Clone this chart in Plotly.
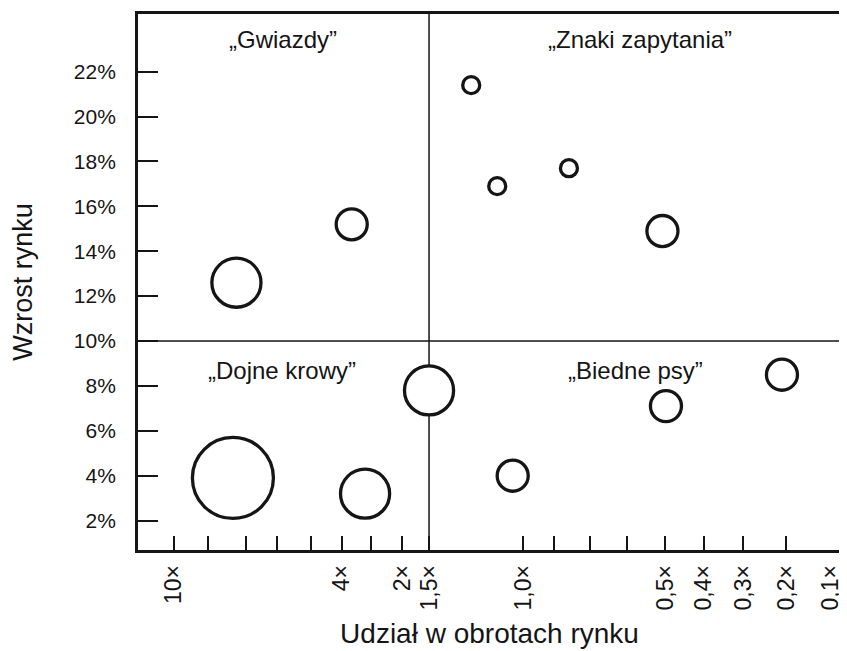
import plotly.graph_objects as go

# ---- Oś X: udział w obrotach rynku (pozycje na osi w jednostkach 0-100) ----
x_label_pos = [5.1, 29.0, 37.6, 41.4, 54.8, 75.0, 80.5, 86.1, 92.2, 98.5]
x_label_text = ["10×", "4×", "2×", "1,5×", "1,0×", "0,5×", "0,4×", "0,3×", "0,2×", "0,1×"]
x_tick_marks = [5.1, 10.0, 15.4, 19.8, 24.6, 29.0, 33.1, 37.6, 41.4,
                54.8, 59.2, 64.3, 69.6, 75.0, 80.5, 86.1, 92.2]

# ---- Oś Y: wzrost rynku (%) ----
y_tick_vals = [2, 4, 6, 8, 10, 12, 14, 16, 18, 20, 22]
y_tick_text = ["2%", "4%", "6%", "8%", "10%", "12%", "14%", "16%", "18%", "20%", "22%"]

# ---- Produkty ----
quadrant = ["Gwiazdy", "Gwiazdy",
            "Znaki zapytania", "Znaki zapytania", "Znaki zapytania", "Znaki zapytania",
            "Dojne krowy", "Dojne krowy", "Dojne krowy",
            "Biedne psy", "Biedne psy", "Biedne psy"]
share_pos = [14.0, 30.4,
             47.4, 51.1, 61.3, 74.6,
             13.5, 32.3, 41.4,
             53.3, 75.1, 91.6]
growth = [12.6, 15.2,
          21.4, 16.9, 17.7, 14.9,
          3.9, 3.2, 7.8,
          4.0, 7.1, 8.5]
sales = [2.5, 1.0,
         0.3, 0.3, 0.3, 1.0,
         6.8, 2.5, 2.5,
         1.0, 1.0, 1.0]

split_x = 41.4   # 1,5×
split_y = 10     # 10%

ink = "#151515"
font_family = "Liberation Sans, Arial, sans-serif"

fig = go.Figure()
fig.add_trace(go.Scatter(
    x=share_pos, y=growth, mode="markers",
    text=quadrant,
    marker=dict(
        size=sales, sizemode="area", sizeref=2 * 6.8 / 81 ** 2,
        color="white", symbol="circle", opacity=1,
        line=dict(color=ink, width=3.3),
    ),
    showlegend=False,
    hoverinfo="text+y",
))

# Linie podziału na ćwiartki
fig.add_shape(type="line", xref="x", yref="y", x0=split_x, x1=split_x,
              y0=0.69, y1=24.57, line=dict(color=ink, width=1.5), layer="below")
fig.add_shape(type="line", xref="x", yref="y", x0=0, x1=100,
              y0=split_y, y1=split_y, line=dict(color=ink, width=1.5), layer="below")

# Etykiety ćwiartek
quad_labels = [("„Gwiazdy”", 20.6, 23.45), ("„Znaki zapytania”", 71.4, 23.45),
               ("„Dojne krowy”", 20.5, 8.7), ("„Biedne psy”", 70.8, 8.7)]
for txt, qx, qy in quad_labels:
    fig.add_annotation(x=qx, y=qy, xref="x", yref="y", text=txt, showarrow=False,
                       font=dict(size=24, color=ink, family=font_family))

fig.update_xaxes(
    range=[0, 100],
    tickmode="array", tickvals=x_label_pos, ticktext=x_label_text,
    ticks="", tickangle=-90, ticklabelstandoff=3, ticklabeloverflow="allow",
    minor=dict(tickmode="array", tickvals=x_tick_marks, ticks="inside",
               ticklen=14, tickwidth=1.5, tickcolor=ink, showgrid=False),
    showgrid=False, zeroline=False,
    showline=True, mirror=True, linecolor=ink, linewidth=2.8,
    tickfont=dict(size=23, color=ink, family=font_family),
    title=dict(text="Udział w obrotach rynku", standoff=14,
               font=dict(size=28, color=ink, family=font_family)),
)
fig.update_yaxes(
    range=[0.69, 24.57],
    tickmode="array", tickvals=y_tick_vals, ticktext=y_tick_text,
    ticks="inside", ticklen=20, tickwidth=1.5, tickcolor=ink,
    ticklabelstandoff=15,
    showgrid=False, zeroline=False,
    showline=True, mirror=True, linecolor=ink, linewidth=2.8,
    tickfont=dict(size=21, color=ink, family=font_family),
    title=dict(text="Wzrost rynku", standoff=38,
               font=dict(size=27, color=ink, family=font_family)),
)

fig.update_layout(
    width=839, height=643,
    margin=dict(l=130, r=6, t=6, b=101, autoexpand=False),
    plot_bgcolor="white", paper_bgcolor="white",
    font=dict(family=font_family, color=ink),
)

fig.write_html("out.html")
